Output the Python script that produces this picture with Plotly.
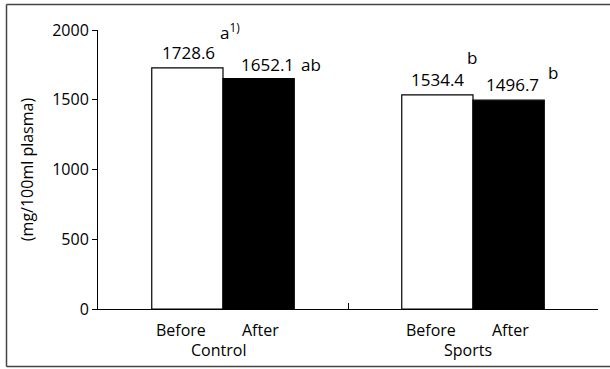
import plotly.graph_objects as go

groups = ["Control", "Sports"]
phases = ["Before", "After"]
values_before = [1728.6, 1534.4]
values_after = [1652.1, 1496.7]
letters_before = ["a<sup>1)</sup>", "b"]
letters_after = ["ab", "b"]
y_title = "(mg/100ml plasma)"
y_ticks = [0, 500, 1000, 1500, 2000]

FONT = "Open Sans"
W, H = 610, 369
L, R, T, B = 98, 12, 30, 60
pw, ph = W - L - R, H - T - B

xpos = list(range(len(groups)))
bw = 0.285

fig = go.Figure()
fig.add_trace(go.Bar(x=[p - bw / 2 for p in xpos], y=values_before, width=bw,
                     marker=dict(color="white", line=dict(color="black", width=1.2)),
                     name=phases[0]))
fig.add_trace(go.Bar(x=[p + bw / 2 for p in xpos], y=values_after, width=bw,
                     marker=dict(color="black", line=dict(color="black", width=1.2)),
                     name=phases[1]))

ann = []
num_shift_b = [(1.5, 15), (0, 15)]
num_shift_a = [(9, 14.5), (3.5, 16)]
let_shift_b = [(43, 36), (34.5, 37)]
let_shift_a = [(52, 14.5), (44.5, 28)]
for i, p in enumerate(xpos):
    xb, xa = p - bw / 2, p + bw / 2
    ann.append(dict(x=xb, y=values_before[i], text=f"{values_before[i]:.1f}",
                    xshift=num_shift_b[i][0], yshift=num_shift_b[i][1], size=17))
    ann.append(dict(x=xa, y=values_after[i], text=f"{values_after[i]:.1f}",
                    xshift=num_shift_a[i][0], yshift=num_shift_a[i][1], size=17))
    ann.append(dict(x=xb, y=values_before[i], text=letters_before[i],
                    xshift=let_shift_b[i][0], yshift=let_shift_b[i][1], size=17))
    ann.append(dict(x=xa, y=values_after[i], text=letters_after[i],
                    xshift=let_shift_a[i][0], yshift=let_shift_a[i][1], size=17))
    # phase labels
    ann.append(dict(x=xb, y=-0.075, yref="paper", text=phases[0], xshift=-6, size=16))
    ann.append(dict(x=xa, y=-0.075, yref="paper", text=phases[1], xshift=2, size=16))
    ann.append(dict(x=p, y=-0.147, yref="paper", text=groups[i], xshift=-5, size=16))

annotations = []
for a in ann:
    size = a.pop("size")
    d = dict(xref="x", yref=a.get("yref", "y"), showarrow=False,
             xanchor="center", yanchor="middle",
             font=dict(family=FONT, size=size, color="black"))
    d.update(a)
    annotations.append(d)

def px2paper_x(px):
    return (px - L) / pw

def px2paper_y(py):
    return (H - B - py) / ph

border = dict(color="#444444", width=1.5)
xl, xr = px2paper_x(6.5), px2paper_x(610)
yt, yb = px2paper_y(4.5), px2paper_y(366.5)
shapes = [
    dict(type="line", xref="paper", yref="paper", x0=xl, x1=xr, y0=yt, y1=yt, line=border),
    dict(type="line", xref="paper", yref="paper", x0=xl, x1=xr, y0=yb, y1=yb, line=border),
    dict(type="line", xref="paper", yref="paper", x0=xl, x1=xl, y0=yb, y1=yt, line=border),
]

fig.update_layout(
    width=W, height=H,
    margin=dict(l=L, r=R, t=T, b=B, autoexpand=False),
    paper_bgcolor="white", plot_bgcolor="white",
    showlegend=False,
    barmode="overlay",
    font=dict(family=FONT, size=16, color="black"),
    annotations=annotations,
    shapes=shapes,
    xaxis=dict(range=[-0.5, 1.5], showgrid=False, zeroline=False,
               showline=True, linecolor="black", linewidth=1,
               tickvals=[-0.5, 0.5, 1.5], showticklabels=False,
               ticks="inside", ticklen=6, tickcolor="black", automargin=False),
    yaxis=dict(range=[0, 2000], showgrid=False, zeroline=False,
               showline=True, linecolor="black", linewidth=1,
               tickvals=y_ticks, ticks="outside", ticklen=5, tickcolor="black",
               tickfont=dict(family=FONT, size=16), automargin=False,
               title=dict(text=y_title, font=dict(family=FONT, size=16), standoff=14)),
)

fig.write_html("out.html", config={"displayModeBar": False},
               post_script="document.body.style.margin='0';document.body.style.overflow='hidden';")
